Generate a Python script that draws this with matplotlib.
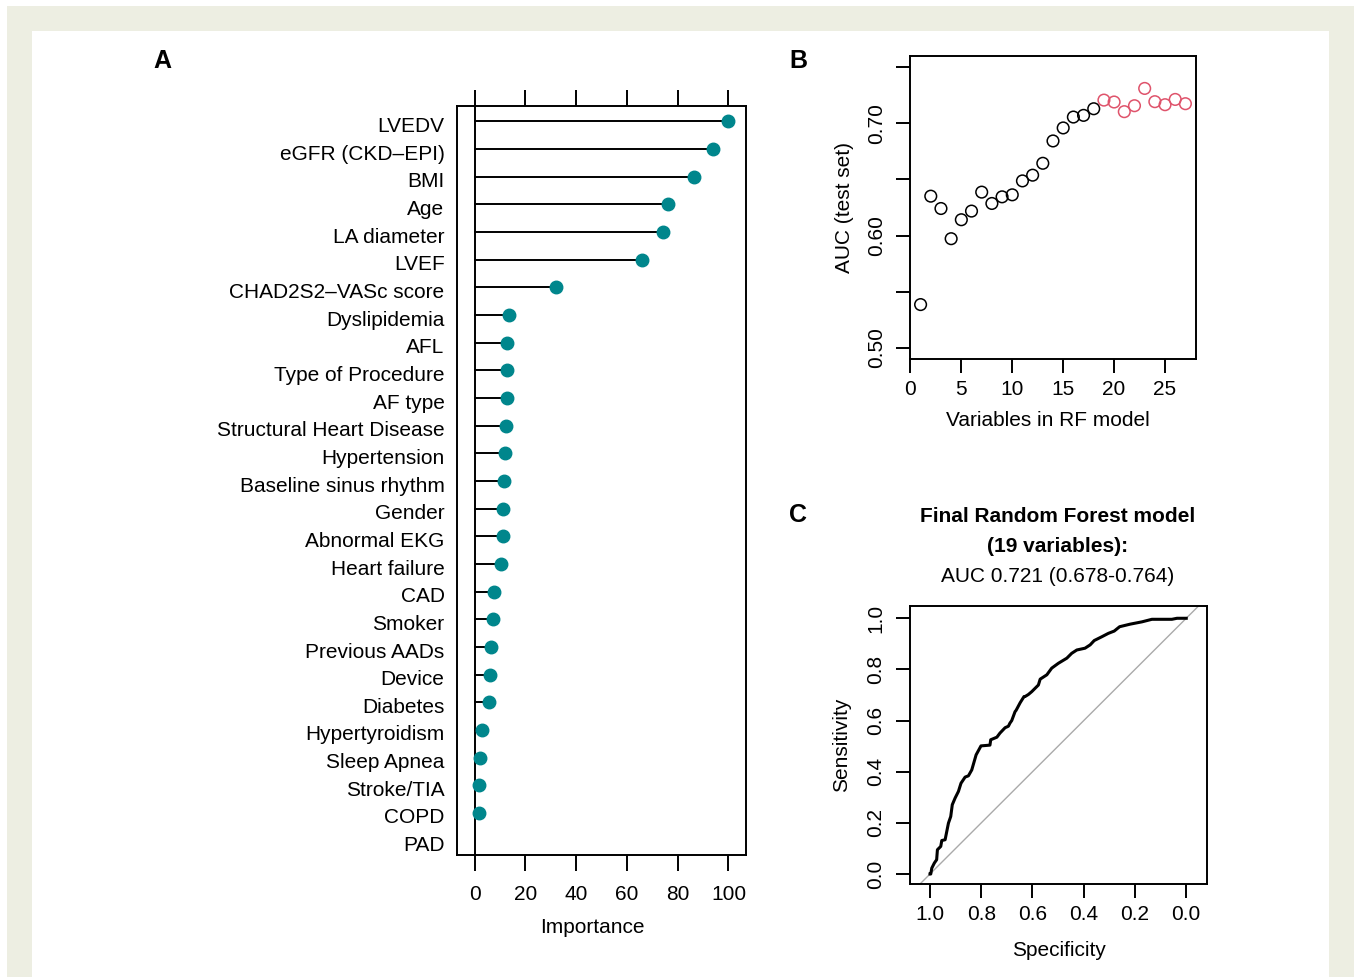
import matplotlib
matplotlib.use("Agg")
import matplotlib.pyplot as plt
from matplotlib.patches import Rectangle
from matplotlib.transforms import ScaledTranslation
import numpy as np

plt.rcParams['font.family'] = ['Liberation Sans', 'DejaVu Sans']

# panel A: variable importance
variables = ["LVEDV", "eGFR (CKD\u2013EPI)", "BMI", "Age", "LA diameter", "LVEF",
             "CHAD2S2\u2013VASc score", "Dyslipidemia", "AFL", "Type of Procedure",
             "AF type", "Structural Heart Disease", "Hypertension",
             "Baseline sinus rhythm", "Gender", "Abnormal EKG", "Heart failure",
             "CAD", "Smoker", "Previous AADs", "Device", "Diabetes",
             "Hypertyroidism", "Sleep Apnea", "Stroke/TIA", "COPD", "PAD"]
importance = [100.0, 94.1, 86.4, 76.0, 74.3, 65.9, 32.0, 13.4, 12.9, 12.9,
              12.6, 12.5, 12.1, 11.8, 11.4, 11.3, 10.5, 7.6, 7.1, 6.4, 6.2,
              5.6, 3.1, 2.0, 1.8, 1.6, 0.0]

# panel B: AUC by number of variables
n_vars = list(range(1, 28))
auc_test = [0.5385, 0.6351, 0.6241, 0.5972, 0.6141, 0.6218, 0.6387, 0.6286,
            0.6345, 0.6363, 0.6487, 0.6538, 0.6644, 0.6843, 0.6959, 0.7056,
            0.7071, 0.7130, 0.7207, 0.7190, 0.7104, 0.7157, 0.7311, 0.7193,
            0.7166, 0.7213, 0.7175]
n_selected = 19

# panel C: ROC curve
specificity = [1.0, 0.997, 0.993, 0.983, 0.974, 0.971, 0.958, 0.954, 0.941,
               0.928, 0.919, 0.913, 0.902, 0.889, 0.879, 0.863, 0.850, 0.837,
               0.820, 0.801, 0.766, 0.763, 0.739, 0.727, 0.707, 0.694, 0.688,
               0.681, 0.668, 0.664, 0.648, 0.633, 0.629, 0.616, 0.603, 0.596,
               0.577, 0.570, 0.544, 0.525, 0.499, 0.466, 0.447, 0.427, 0.395,
               0.375, 0.359, 0.329, 0.304, 0.281, 0.260, 0.219, 0.173, 0.134,
               0.056, 0.036, 0.0]
sensitivity = [0.0, 0.0, 0.023, 0.043, 0.056, 0.095, 0.108, 0.131, 0.134,
               0.199, 0.225, 0.271, 0.297, 0.323, 0.355, 0.379, 0.384, 0.407,
               0.466, 0.501, 0.504, 0.525, 0.535, 0.551, 0.572, 0.578, 0.590,
               0.600, 0.635, 0.640, 0.670, 0.694, 0.694, 0.702, 0.713, 0.720,
               0.739, 0.762, 0.779, 0.805, 0.824, 0.844, 0.863, 0.876, 0.883,
               0.896, 0.913, 0.928, 0.941, 0.950, 0.967, 0.977, 0.986, 0.996,
               0.996, 1.0, 1.0]

W, H = 1354, 977
fig = plt.figure(figsize=(W / 100, H / 100), dpi=100)

# page background frame
fig.patches.append(Rectangle((7 / W, 0), 1 - 7 / W, 1 - 6 / H, transform=fig.transFigure,
                             facecolor='#EDEEE2', edgecolor='none', zorder=-10))
fig.patches.append(Rectangle((32 / W, 0), (1329 - 32) / W, 1 - 31 / H, transform=fig.transFigure,
                             facecolor='white', edgecolor='none', zorder=-9))


def px_axes(l, t, r, b):
    return fig.add_axes([l / W, 1 - b / H, (r - l) / W, (b - t) / H])


FS = 15
LW = 1.4
teal = '#00868C'
red = '#DF536B'

# ---- A ----
ax = px_axes(457, 106, 746, 855)
ypos = np.arange(len(variables), 0, -1)
ax.axvline(0, color='black', lw=LW, zorder=1)
for y, v in zip(ypos, importance):
    ax.plot([0, v], [y, y], color='black', lw=LW, zorder=2)
    if v > 0:
        ax.plot(v, y, 'o', color=teal, ms=9, zorder=3)
ax.set_xlim(-6.9, 106.9)
ax.set_ylim(0.48, len(variables) + 0.56)
ax.set_yticks(ypos)
ax.set_yticklabels(variables)
ax.set_xticks(np.arange(0, 101, 20))
ax.tick_params(axis='y', length=0, pad=9, labelsize=FS)
ax.tick_params(axis='x', direction='out', length=11.5, width=LW, pad=10, labelsize=FS,
               top=True)
ax.set_xlabel('Importance', fontsize=FS, labelpad=10)
ax.xaxis.label.set_x(0.467)
shift = ScaledTranslation(0, -3 / 100, fig.dpi_scale_trans)
for lbl in ax.get_yticklabels():
    lbl.set_transform(lbl.get_transform() + shift)
for s in ax.spines.values():
    s.set_linewidth(LW)

# ---- B ----
bx = px_axes(910, 56, 1196, 359)
cols = [red if n >= n_selected else 'black' for n in n_vars]
bx.scatter(n_vars, auc_test, s=70, facecolors='none', edgecolors=cols, linewidths=1.1)
bx.set_xlim(-0.04, 28.04)
bx.set_ylim(0.49, 0.76)
bx.set_xticks(np.arange(0, 26, 5))
yt = np.arange(0.50, 0.751, 0.05)
bx.set_yticks(yt)
bx.set_yticklabels(['0.50', '', '0.60', '', '0.70', ''], rotation=90, va='center')
bx.tick_params(direction='out', length=10, width=LW, pad=5, labelsize=FS)
bx.tick_params(axis='y', pad=7)
bx.set_xlabel('Variables in RF model', fontsize=FS, labelpad=9)
bx.xaxis.label.set_x(0.483)
bx.set_ylabel('AUC (test set)', fontsize=FS, labelpad=10)
for s in bx.spines.values():
    s.set_linewidth(LW)

# ---- C ----
cx = px_axes(910, 606, 1207, 884)
cx.plot([1.1, -0.1], [-0.1, 1.1], color='#AAAAAA', lw=1.0)
cx.plot(specificity, sensitivity, color='black', lw=2.2)
cx.set_xlim(1.078, -0.081)
cx.set_ylim(-0.039, 1.048)
cx.set_xticks(np.arange(0, 1.01, 0.2))
cx.set_xticklabels(['0.0', '0.2', '0.4', '0.6', '0.8', '1.0'])
cx.set_yticks(np.arange(0, 1.01, 0.2))
cx.set_yticklabels(['0.0', '0.2', '0.4', '0.6', '0.8', '1.0'], rotation=90, va='center')
cx.tick_params(direction='out', length=10, width=LW, pad=5, labelsize=FS)
cx.tick_params(axis='y', pad=8)
cx.set_xlabel('Specificity', fontsize=FS, labelpad=12)
cx.set_ylabel('Sensitivity', fontsize=FS, labelpad=11)
for s in cx.spines.values():
    s.set_linewidth(LW)

fig.text(1058 / W, 1 - 517 / H, 'Final Random Forest model', ha='center', va='center',
         fontsize=FS, fontweight='bold')
fig.text(1058 / W, 1 - 547 / H, '(19 variables):', ha='center', va='center',
         fontsize=FS, fontweight='bold')
fig.text(1058 / W, 1 - 576 / H, 'AUC 0.721 (0.678-0.764)', ha='center', va='center',
         fontsize=FS)

for letter, x, y in [('A', 162, 61), ('B', 798, 61), ('C', 798, 515)]:
    fig.text(x / W, 1 - y / H, letter, ha='center', va='center', fontsize=18,
             fontweight='bold')

fig.savefig('out.png', dpi=100)
